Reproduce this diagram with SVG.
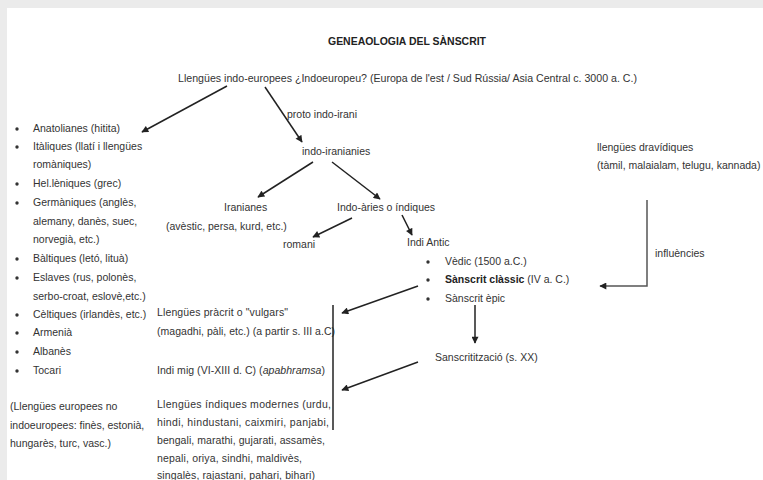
<svg xmlns="http://www.w3.org/2000/svg" width="763" height="480" viewBox="0 0 763 480">
<defs>
<marker id="ah" viewBox="0 0 10 10" refX="9" refY="5" markerWidth="8" markerHeight="7" markerUnits="userSpaceOnUse" orient="auto">
<path d="M0,0 L10,5 L0,10 z" fill="#222"/>
</marker>
<style>
text{font-family:"Liberation Sans",Arial,sans-serif;font-size:10.5px;fill:#333}
.t{font-weight:bold;font-size:10px;fill:#222}
.c{stroke:#222;stroke-width:1.5;fill:none;marker-end:url(#ah)}
.g{stroke:#555;stroke-width:1.5;fill:none}
.b{fill:#333}
</style>
</defs>
<rect x="0" y="0" width="763" height="480" fill="#ffffff"/>
<rect x="0" y="0" width="763" height="8" fill="#ebebeb"/>
<rect x="0" y="0" width="7" height="480" fill="#ebebeb"/>

<g id="title"><text class="t" x="328" y="45" textLength="158" lengthAdjust="spacingAndGlyphs">GENEAOLOGIA DEL SÀNSCRIT</text></g>
<g id="indoeuropees"><text x="178" y="82" textLength="459" lengthAdjust="spacingAndGlyphs">Llengües indo-europees ¿Indoeuropeu? (Europa de l'est / Sud Rússia/ Asia Central c. 3000 a. C.)</text></g>

<g id="branques-europees">
<circle class="b" cx="17" cy="129" r="1.7"/><text x="33" y="132">Anatolianes (hitita)</text>
<circle class="b" cx="17" cy="147" r="1.7"/><text x="33" y="150">Itàliques (llatí i llengües</text>
<text x="33" y="168">romàniques)</text>
<circle class="b" cx="17" cy="184" r="1.7"/><text x="33" y="187">Hel.lèniques (grec)</text>
<circle class="b" cx="17" cy="203" r="1.7"/><text x="33" y="206">Germàniques (anglès,</text>
<text x="33" y="225">alemany, danès, suec,</text>
<text x="33" y="243">norvegià, etc.)</text>
<circle class="b" cx="17" cy="259" r="1.7"/><text x="33" y="262">Bàltiques (letó, lituà)</text>
<circle class="b" cx="17" cy="278" r="1.7"/><text x="33" y="281">Eslaves (rus, polonès,</text>
<text x="33" y="300">serbo-croat, eslovè,etc.)</text>
<circle class="b" cx="17" cy="315" r="1.7"/><text x="33" y="318">Cèltiques (irlandès, etc.)</text>
<circle class="b" cx="17" cy="333" r="1.7"/><text x="33" y="336">Armenià</text>
<circle class="b" cx="17" cy="352" r="1.7"/><text x="33" y="355">Albanès</text>
<circle class="b" cx="17" cy="371" r="1.7"/><text x="33" y="374">Tocari</text>
</g>
<g id="no-indoeuropees">
<text x="10" y="410">(Llengües europees no</text>
<text x="10" y="429">indoeuropees: finès, estonià,</text>
<text x="10" y="447">hungarès, turc, vasc.)</text>
</g>

<g id="proto-indo-irani"><text x="287" y="118">proto indo-irani</text></g>
<g id="indo-iranianies"><text x="302" y="155">indo-iranianies</text></g>
<g id="iranianes">
<text x="224" y="211">Iranianes</text>
<text x="166" y="230">(avèstic, persa, kurd, etc.)</text>
</g>
<g id="indo-aries"><text x="337" y="211">Indo-àries o índiques</text></g>
<g id="romani"><text x="283" y="248">romani</text></g>
<g id="indi-antic">
<text x="407" y="246">Indi Antic</text>
<circle class="b" cx="428" cy="262" r="1.7"/><text x="445" y="265">Vèdic (1500 a.C.)</text>
<circle class="b" cx="428" cy="280" r="1.7"/><text x="445" y="283"><tspan font-weight="bold" fill="#222">Sànscrit clàssic</tspan> (IV a. C.)</text>
<circle class="b" cx="428" cy="299" r="1.7"/><text x="445" y="302">Sànscrit èpic</text>
</g>
<g id="sanscritització"><text x="435" y="361">Sanscritització (s. XX)</text></g>
<g id="dravidiques">
<text x="597" y="151">llengües dravídiques</text>
<text x="597" y="169">(tàmil, malaialam, telugu, kannada)</text>
</g>
<g id="influencies-label"><text x="655" y="257">influències</text></g>

<g id="pracrit">
<text x="157" y="316" textLength="131" lengthAdjust="spacing">Llengües pràcrit o "vulgars"</text>
<text x="157" y="335" textLength="178" lengthAdjust="spacing">(magadhi, pàli, etc.) (a partir s. III a.C)</text>
</g>
<g id="indi-mig"><text x="157" y="374" textLength="168" lengthAdjust="spacing">Indi mig (VI-XIII d. C) (<tspan font-style="italic">apabhramsa</tspan>)</text></g>
<g id="moderns">
<text x="157" y="408" textLength="174" lengthAdjust="spacing">Llengües índiques modernes (urdu,</text>
<text x="157" y="426" textLength="172" lengthAdjust="spacing">hindi, hindustani, caixmiri, panjabi,</text>
<text x="157" y="444" textLength="168" lengthAdjust="spacing">bengali, marathi, gujarati, assamès,</text>
<text x="157" y="462" textLength="145" lengthAdjust="spacing">nepali, oriya, sindhi, maldivès,</text>
<text x="157" y="479" textLength="158" lengthAdjust="spacing">singalès, rajastani, pahari, bihari)</text>
</g>

<g id="connectors">
<line class="c" x1="227" y1="86" x2="142" y2="132"/>
<line class="c" x1="265" y1="87" x2="302" y2="142"/>
<line class="c" x1="313" y1="162" x2="258" y2="197"/>
<line class="c" x1="332" y1="162" x2="380" y2="199"/>
<line class="c" x1="352" y1="218" x2="313" y2="237"/>
<line class="c" x1="402" y1="215" x2="412" y2="235"/>
<line class="c" x1="418" y1="286" x2="342" y2="313"/>
<line class="c" x1="418" y1="362" x2="342" y2="390"/>
<line class="c" x1="475" y1="305" x2="475" y2="343"/>
<polyline class="g" points="647,200 647,286 600,286" marker-end="url(#ah)"/>
<line stroke="#222" stroke-width="1.5" x1="333" y1="305" x2="333" y2="430"/>
</g>
</svg>
